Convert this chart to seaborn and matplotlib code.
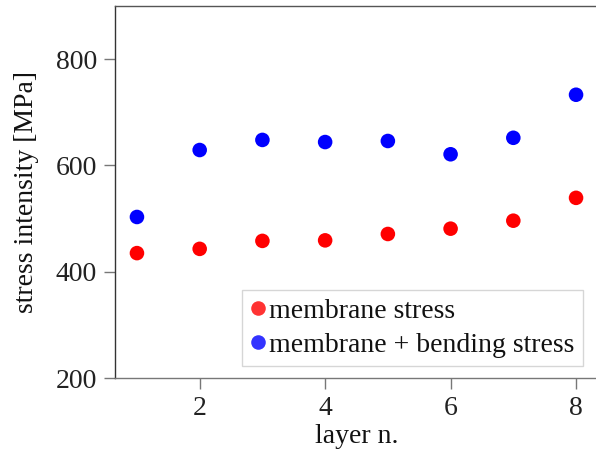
import matplotlib
matplotlib.use("Agg")
import matplotlib.pyplot as plt
import seaborn as sns
import pandas as pd

layers = [1, 2, 3, 4, 5, 6, 7, 8]
membrane = [435, 443, 458, 459, 471, 481, 496, 539]
membrane_bending = [503, 629, 648, 644, 646, 621, 652, 733]
series_names = ["membrane stress", "membrane + bending stress"]
colors = ["#ff0000", "#0000ff"]

df = pd.DataFrame({
    "layer": layers * 2,
    "stress": membrane + membrane_bending,
    "series": [series_names[0]] * len(layers) + [series_names[1]] * len(layers),
})

sns.set_theme(style="white")
plt.rcParams["font.family"] = ["Liberation Serif", "DejaVu Serif"]

fig = plt.figure(figsize=(5.96, 4.53), dpi=100)
ax = fig.add_axes([115 / 596, 75 / 453, 483 / 596, 372 / 453])

sns.scatterplot(data=df, x="layer", y="stress", hue="series",
                palette=dict(zip(series_names, colors)), s=110,
                edgecolor="none", ax=ax, legend=True)

FS = 20
ax.set_xlim(0.65, 8.35)
ax.set_ylim(200, 900)
ax.set_xticks([2, 4, 6, 8])
ax.set_yticks([200, 400, 600, 800])
ax.set_xlabel("layer n.", fontsize=FS, labelpad=2, color="#111111")
ax.set_ylabel("stress intensity [MPa]", fontsize=FS, labelpad=12, color="#111111")
ax.tick_params(axis="both", which="major", bottom=True, left=True, top=False,
               right=False, labelsize=FS, direction="out", length=8,
               width=1, color="#777777", labelcolor="#222222", pad=5)
for side in ["left", "bottom", "top"]:
    ax.spines[side].set_linewidth(1.0)
ax.spines["left"].set_color("#333333")
ax.spines["bottom"].set_color("#777777")
ax.spines["top"].set_color("#555555")
ax.spines["right"].set_visible(False)

handles, labels = ax.get_legend_handles_labels()
leg = ax.legend(handles, labels, loc="lower right",
                bbox_to_anchor=(0.969, 0.032), borderaxespad=0,
                fontsize=FS, frameon=True, fancybox=False,
                handletextpad=0.15, handlelength=0.55, borderpad=0.3,
                labelspacing=0.3, markerscale=1.0)
leg.get_frame().set_edgecolor("#cccccc")
leg.get_frame().set_linewidth(1.0)
for t in leg.get_texts():
    t.set_color("#111111")
for h in leg.legend_handles:
    h.set_alpha(0.8)

fig.savefig("out.png", dpi=100)
